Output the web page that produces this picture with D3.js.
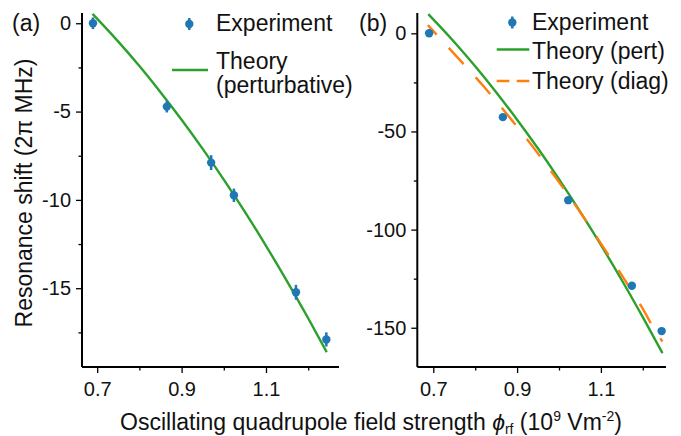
<!DOCTYPE html>
<html>
<head>
<meta charset="utf-8">
<title>Resonance shift vs quadrupole field strength</title>
<script src="https://cdn.jsdelivr.net/npm/d3@7"></script>
<style>
  body { margin: 0; background: #fff; }
  text { font-family: "Liberation Sans", Arial, sans-serif; fill: #111; }
</style>
</head>
<body>
<div id="chart"></div>
<script>
// panel (a): measured shift, 2pi MHz
const expA_x = [0.690, 0.865, 0.970, 1.024, 1.171, 1.243];
const expA_y = [0.0, -4.72, -7.89, -9.74, -15.23, -17.9];
const expA_err = [0.33, 0.33, 0.42, 0.38, 0.42, 0.40];
// panel (a): perturbative theory curve
const thA_x = [0.689, 0.75, 0.80, 0.85, 0.90, 0.95, 1.00, 1.05, 1.10, 1.15, 1.20, 1.244];
const thA_y = [0.53, -1.04, -2.42, -3.90, -5.46, -7.11, -8.85, -10.68, -12.60, -14.61, -16.70, -18.62];

// panel (b)
const expB_x = [0.690, 0.866, 1.022, 1.174, 1.245];
const expB_y = [0.0, -42.7, -85.0, -128.6, -151.7];
const expB_err = [1.5, 1.5, 1.5, 1.5, 1.5];
const pertB_x = [0.688, 0.75, 0.80, 0.85, 0.90, 0.95, 1.00, 1.05, 1.10, 1.15, 1.20, 1.247];
const pertB_y = [9.8, -4.4, -16.8, -30.0, -44.0, -58.7, -74.3, -90.7, -107.8, -125.8, -144.6, -162.9];
const diagB_x = [0.687, 0.75, 0.82, 0.875, 0.934, 0.989, 1.046, 1.096, 1.147, 1.197, 1.238, 1.247];
const diagB_y = [4.2, -10.5, -27.0, -41.0, -56.8, -72.6, -89.7, -105.8, -122.3, -139.3, -154.3, -157.0];

const xMajor = [0.7, 0.9, 1.1];
const xMinor = [0.8, 1.0, 1.2];
const yMajorA = [0, -5, -10, -15];
const yMinorA = [-2.5, -7.5, -12.5, -17.5];
const yMajorB = [0, -50, -100, -150];
const yMinorB = [-25, -75, -125];

const blue = "#1f77b4", green = "#2ca02c", orange = "#ff7f0e";

const svg = d3.select("#chart").append("svg")
  .attr("width", 681).attr("height", 436);

function zip(xs, ys) { return xs.map((x, i) => ({x: x, y: ys[i]})); }

function panel(opt) {
  const x = d3.scaleLinear().domain(opt.xd).range([opt.left, opt.right]);
  const y = d3.scaleLinear().domain(opt.yd).range([367, 13]);
  const g = svg.append("g");

  // minor ticks first, then major axis
  g.append("g").attr("transform", "translate(0,367)")
    .call(d3.axisBottom(x).tickValues(xMinor).tickSize(3.5).tickFormat(""))
    .call(a => a.select(".domain").remove());
  g.append("g").attr("transform", `translate(${opt.left},0)`)
    .call(d3.axisLeft(y).tickValues(opt.yMinor).tickSize(3.5).tickFormat(""))
    .call(a => a.select(".domain").remove());

  const ax = g.append("g").attr("transform", "translate(0,367)")
    .call(d3.axisBottom(x).tickValues(xMajor).tickSize(6).tickPadding(9).tickFormat(d3.format(".1f")));
  const ay = g.append("g").attr("transform", `translate(${opt.left},0)`)
    .call(d3.axisLeft(y).tickValues(opt.yMajor).tickSize(6).tickPadding(5).tickFormat(d => String(d)));
  [ax, ay].forEach(a => {
    a.selectAll("text").style("font-size", "20px").attr("fill", "#111");
    a.select(".domain").attr("stroke-width", 2);
  });
  ax.select(".domain").attr("d", `M${opt.left},0H${opt.right}`);
  ay.select(".domain").attr("d", `M0,${13}V${367}`);
  g.selectAll(".tick line").attr("stroke-width", 1.3);

  const line = d3.line().x(d => x(d.x)).y(d => y(d.y)).curve(d3.curveMonotoneX);
  opt.lines.forEach(l => {
    g.append("path").datum(zip(l.xs, l.ys))
      .attr("d", line).attr("fill", "none")
      .attr("stroke", l.color).attr("stroke-width", 2.4)
      .attr("stroke-dasharray", l.dash || null)
      .attr("stroke-dashoffset", l.offset || 0);
  });

  const pts = opt.ex.map((v, i) => ({x: v, y: opt.ey[i], e: opt.err[i]}));
  g.selectAll(".eb").data(pts).join("line")
    .attr("x1", d => x(d.x)).attr("x2", d => x(d.x))
    .attr("y1", d => y(d.y - d.e)).attr("y2", d => y(d.y + d.e))
    .attr("stroke", blue).attr("stroke-width", 2.5);
  g.selectAll(".pt").data(pts).join("circle")
    .attr("cx", d => x(d.x)).attr("cy", d => y(d.y)).attr("r", 4.2)
    .attr("fill", blue);

  g.append("text").attr("x", opt.labelX).attr("y", 31)
    .style("font-size", "23px").text(opt.label);
  return g;
}

const gA = panel({
  left: 82, right: 339, xd: [0.664, 1.273], yd: [-19.46, 0.58],
  yMajor: yMajorA, yMinor: yMinorA,
  ex: expA_x, ey: expA_y, err: expA_err,
  lines: [{xs: thA_x, ys: thA_y, color: green}],
  label: "(a)", labelX: 12
});
const gB = panel({
  left: 417.3, right: 666, xd: [0.6618, 1.2554], yd: [-170, 10.35],
  yMajor: yMajorB, yMinor: yMinorB,
  ex: expB_x, ey: expB_y, err: expB_err,
  lines: [{xs: pertB_x, ys: pertB_y, color: green},
          {xs: diagB_x, ys: diagB_y, color: orange, dash: "22,18", offset: 9}],
  label: "(b)", labelX: 359
});

// legends
function expHandle(g, cx, cy) {
  g.append("line").attr("x1", cx).attr("x2", cx).attr("y1", cy - 6).attr("y2", cy + 6)
    .attr("stroke", blue).attr("stroke-width", 2.5);
  g.append("circle").attr("cx", cx).attr("cy", cy).attr("r", 4.2).attr("fill", blue);
}
function lineHandle(g, x1, x2, y0, color, dash) {
  g.append("line").attr("x1", x1).attr("x2", x2).attr("y1", y0).attr("y2", y0)
    .attr("stroke", color).attr("stroke-width", 2.4).attr("stroke-dasharray", dash || null);
}
function legText(g, x0, y0, s) {
  g.append("text").attr("x", x0).attr("y", y0).style("font-size", "23px").text(s);
}

expHandle(gA, 189.3, 24);
legText(gA, 216, 31, "Experiment");
lineHandle(gA, 172, 208, 70, green);
legText(gA, 216, 69, "Theory");
legText(gA, 216, 93, "(perturbative)");

expHandle(gB, 512.3, 22.5);
legText(gB, 532, 30, "Experiment");
lineHandle(gB, 496.7, 529.3, 49.5, green);
legText(gB, 532, 59, "Theory (pert)");
lineHandle(gB, 496.7, 529.3, 81, orange, "12.7,7.3");
legText(gB, 532, 88.5, "Theory (diag)");

// axis titles
svg.append("text")
  .attr("transform", "translate(32,193) rotate(-90)")
  .attr("text-anchor", "middle").style("font-size", "23px")
  .text("Resonance shift (2\u03c0 MHz)");

const xl = svg.append("text").attr("x", 371).attr("y", 430)
  .attr("text-anchor", "middle").style("font-size", "23px");
xl.append("tspan").text("Oscillating quadrupole field strength ");
xl.append("tspan").style("font-style", "italic").text("\u03d5");
xl.append("tspan").attr("dy", 4).style("font-size", "14px").text("rf");
xl.append("tspan").attr("dy", -4).text(" (10");
xl.append("tspan").attr("dy", -9).style("font-size", "14px").text("9");
xl.append("tspan").attr("dy", 9).text(" Vm");
xl.append("tspan").attr("dy", -9).style("font-size", "14px").text("-2");
xl.append("tspan").attr("dy", 9).text(")");
</script>
</body>
</html>
